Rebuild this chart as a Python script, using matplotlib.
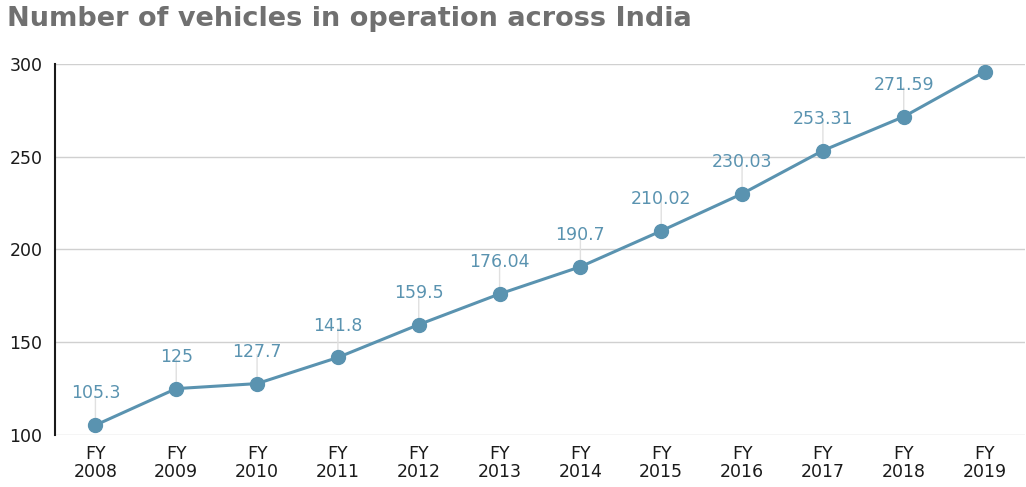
import matplotlib
matplotlib.use("Agg")
import matplotlib.pyplot as plt

categories = ["FY\n2008", "FY\n2009", "FY\n2010", "FY\n2011", "FY\n2012", "FY\n2013",
              "FY\n2014", "FY\n2015", "FY\n2016", "FY\n2017", "FY\n2018", "FY\n2019"]
values = [105.3, 125, 127.7, 141.8, 159.5, 176.04, 190.7, 210.02, 230.03, 253.31, 271.59, 295.8]
labels = ["105.3", "125", "127.7", "141.8", "159.5", "176.04", "190.7", "210.02",
          "230.03", "253.31", "271.59", ""]
yticks = [100, 150, 200, 250, 300]

plt.rcParams['font.family'] = ['DejaVu Sans']

line_color = "#5a93b0"
fig = plt.figure(figsize=(10.26, 4.87), dpi=100)
ax = fig.add_axes([0.0536, 0.1068, 0.9454, 0.7618])

x = list(range(len(values)))
ax.plot(x, values, color=line_color, lw=2.2, marker="o", markersize=10, zorder=3)

ax.set_xlim(-0.5, len(values) - 0.5)
ax.set_ylim(100, 300)
ax.set_yticks(yticks)
ax.set_xticks(x)
ax.set_xticklabels(categories, fontsize=12.5, color="#1a1a1a", linespacing=1.05)
ax.tick_params(axis="y", labelsize=12.5, labelcolor="#1a1a1a", length=0, pad=9)
ax.tick_params(axis="x", length=0, pad=7)
ax.grid(axis="y", color="#d0d0d0", lw=1)
ax.set_axisbelow(True)
for s in ["top", "right", "bottom"]:
    ax.spines[s].set_visible(False)
ax.spines["left"].set_color("#1a1a1a")
ax.spines["left"].set_linewidth(1.5)

for xi, v, lab in zip(x, values, labels):
    if not lab:
        continue
    ax.annotate("", xy=(xi, v), xytext=(0, 21), textcoords="offset points",
                arrowprops=dict(arrowstyle="-", color="#e0e0e0", lw=1, shrinkA=0, shrinkB=5),
                zorder=2)
    ax.annotate(lab, xy=(xi, v), xytext=(0, 23), textcoords="offset points",
                ha="center", va="center", fontsize=12.5, color=line_color)

fig.text(0.007, 0.962, "Number of vehicles in operation across India", fontsize=19.5,
         fontweight="bold", color="#707070", ha="left", va="center")

fig.savefig("out.png", dpi=100)
